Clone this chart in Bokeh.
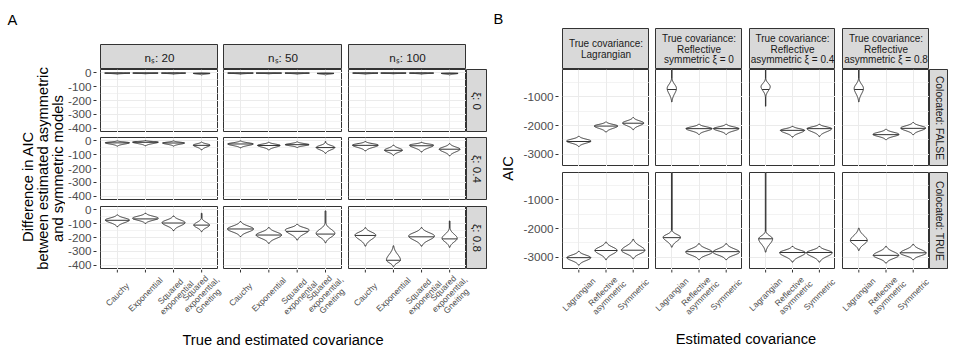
import math
import numpy as np
from bokeh.plotting import figure
from bokeh.layouts import row, column
from bokeh.models import Range1d, FixedTicker, LinearAxis, Grid, Spacer
from bokeh.core.properties import value
from bokeh.embed import file_html
from bokeh.resources import INLINE

FONT = "Liberation Sans"

# ---------------- Panel A data ([xi row][n_s column][covariance]) ----------------
A_cov = ["Cauchy", "Exponential", "Squared\nexponential", "Squared\nexponential,\nGneiting"]
A_ns = ["20", "50", "100"]
A_xi = ["0", "0.4", "0.8"]
A_yticks = [0, -100, -200, -300, -400]
A_yminor = [-50, -150, -250, -350]

A_lo = [
    [[-8, -6, -8, -14], [-8, -6, -8, -14], [-8, -6, -8, -14]],
    [[-37, -35, -37, -65], [-50, -65, -47, -90], [-72, -104, -80, -108]],
    [[-121, -97, -150, -158], [-193, -242, -218, -238], [-262, -412, -262, -271]],
]
A_peak = [
    [[-1, -1, -1, -3], [-1, -1, -1, -3], [-1, -1, -1, -3]],
    [[-13, -8, -15, -30], [-22, -32, -27, -47], [-30, -67, -30, -60]],
    [[-73, -60, -92, -110], [-138, -182, -145, -170], [-182, -364, -189, -206]],
]
A_hi = [
    [[1, 1, 1, 0], [1, 1, 1, 0], [1, 1, 1, 0]],
    [[0, 2, 0, -8], [0, -10, -7, -12], [-5, -30, -10, -20]],
    [[-36, -24, -44, -60], [-85, -128, -104, -95], [-129, -260, -129, -131]],
]
A_tail = [
    [[None, None, None, None], [None, None, None, None], [None, None, None, None]],
    [[None, None, None, None], [None, None, None, -5], [None, None, None, None]],
    [[None, None, None, -24], [None, None, None, -7], [None, None, None, -80]],
]
A_med = [
    [[-1, -1, -1, -3], [-1, -1, -1, -3], [-1, -1, -1, -3]],
    [[-14, -10, -15, -32], [-22, -33, -27, -48], [-32, -68, -35, -60]],
    [[-75, -65, -95, -110], [-138, -182, -155, -175], [-185, -365, -195, -210]],
]
A_hw = [
    [[0.45, 0.45, 0.43, 0.30], [0.45, 0.45, 0.43, 0.30], [0.45, 0.45, 0.43, 0.30]],
    [[0.43, 0.46, 0.39, 0.30], [0.45, 0.40, 0.42, 0.33], [0.46, 0.32, 0.43, 0.37]],
    [[0.43, 0.46, 0.41, 0.28], [0.46, 0.45, 0.42, 0.33], [0.37, 0.25, 0.46, 0.27]],
]

# ---------------- Panel B data ([colocated row][true covariance column][estimated]) ----------------
B_est = ["Lagrangian", "Reflective\nasymmetric", "Symmetric"]
B_true = [
    ["True covariance:", "Lagrangian"],
    ["True covariance:", "Reflective", "symmetric \u03be = 0"],
    ["True covariance:", "Reflective", "asymmetric \u03be = 0.4"],
    ["True covariance:", "Reflective", "asymmetric \u03be = 0.8"],
]
B_coloc = ["Colocated: FALSE", "Colocated: TRUE"]
B_yticks = [-1000, -2000, -3000]
B_yminor = [-500, -1500, -2500, -3500]

B_lo = [
    [[-2730, -2228, -2144], [-1175, -2309, -2309], [-1000, -2404, -2379], [-1175, -2495, -2319]],
    [[-3280, -3090, -3056], [-2652, -3090, -3090], [-2826, -3174, -3174], [-2767, -3209, -3090]],
]
B_peak = [
    [[-2544, -2017, -1912], [-700, -2109, -2109], [-640, -2168, -2109], [-700, -2309, -2088]],
    [[-3020, -2767, -2767], [-2303, -2826, -2826], [-2360, -2847, -2847], [-2418, -2941, -2860]],
]
B_hi = [
    [[-2379, -1877, -1723], [-344, -1958, -1958], [-356, -2028, -1958], [-344, -2133, -1898]],
    [[-2800, -2477, -2383], [-2070, -2533, -2533], [-2100, -2627, -2627], [-1990, -2627, -2557]],
]
B_tail_hi = [
    [[None, None, None], [-40, None, None], [-40, None, None], [-40, None, None]],
    [[None, None, None], [-40, None, None], [-40, None, None], [None, None, None]],
]
B_tail_lo = [
    [[None, None, None], [None, None, None], [-1326, None, None], [None, None, None]],
    [[None, None, None], [None, None, None], [None, None, None], [None, None, None]],
]
B_med = [
    [[-2560, -2020, -1920], [-740, -2110, -2110], [-740, -2170, -2110], [-740, -2320, -2100]],
    [[-3020, -2770, -2760], [-2320, -2810, -2810], [-2360, -2840, -2840], [-2420, -2940, -2850]],
]
B_hw = [
    [[0.45, 0.43, 0.39], [0.17, 0.48, 0.47], [0.17, 0.45, 0.46], [0.17, 0.48, 0.46]],
    [[0.44, 0.41, 0.43], [0.32, 0.49, 0.49], [0.26, 0.48, 0.48], [0.31, 0.47, 0.48]],
]

# ---------------- styling ----------------
DARK = "#333333"
GRID = "#EBEBEB"
STRIP = "#D9D9D9"
TICKTXT = "#4D4D4D"
TITLE_SIZE = "14.7px"
XLAB_SIZE = "8.5px"
XLAB_Y = 25         # px below the panels to the centre of a rotated tick label
XLAB_LINE = 9       # px between lines of a rotated tick label
H = 351
PANEL_BOTTOM = 269


def width_at(y, lo, peak, hi, hw, k=3.2):
    if y <= peak:
        t = (peak - y) / (peak - lo) if peak > lo else 0.0
    else:
        t = (y - peak) / (hi - peak) if hi > peak else 0.0
    return hw * math.exp(-k * t * t)


def violin(xc, lo, peak, hi, hw, tail_hi=None, tail_lo=None):
    ys = sorted(set(list(np.linspace(lo, hi, 61)) + [peak]))
    ws = [width_at(y, lo, peak, hi, hw) for y in ys]
    if tail_lo is not None:
        ys = [tail_lo] + ys
        ws = [ws[0]] + ws
    if tail_hi is not None:
        ys = ys + [tail_hi]
        ws = ws + [ws[-1]]
    xs = [xc + w for w in ws] + [xc - w for w in reversed(ws)]
    yy = ys + list(reversed(ys))
    return xs, yy


def blank_fig(**kw):
    p = figure(x_axis_location=None, y_axis_location=None,
               toolbar_location=None, output_backend="svg",
               border_fill_color="white", **kw)
    p.grid.visible = False
    return p


def panel(fw, fh, ncat, yr, yticks, yminor, bl, bt):
    p = blank_fig(frame_width=fw, frame_height=fh,
                  x_range=Range1d(0.4, ncat + 0.6), y_range=Range1d(*yr),
                  min_border_left=bl, min_border_right=0, min_border_top=bt, min_border_bottom=0,
                  outline_line_color=DARK, outline_line_width=1,
                  background_fill_color="white")
    p.add_layout(Grid(dimension=0, ticker=FixedTicker(ticks=list(range(1, ncat + 1))),
                      grid_line_color=GRID, grid_line_width=1))
    p.add_layout(Grid(dimension=1, ticker=FixedTicker(ticks=yticks, minor_ticks=yminor),
                      grid_line_color=GRID, grid_line_width=1,
                      minor_grid_line_color=GRID, minor_grid_line_width=0.6))
    return p


def axis_fig(width, yr, frame_h, pad_top, pad_bottom, yticks):
    rpp = (yr[1] - yr[0]) / frame_h
    p = blank_fig(frame_width=1, frame_height=frame_h + pad_top + pad_bottom,
                  x_range=Range1d(0, 1),
                  y_range=Range1d(yr[0] - pad_bottom * rpp, yr[1] + pad_top * rpp),
                  min_border_left=width - 1, min_border_right=0, min_border_top=0, min_border_bottom=0,
                  outline_line_color=None, background_fill_color="white")
    ax = LinearAxis(ticker=FixedTicker(ticks=yticks))
    ax.major_label_overrides = {t: str(t) for t in yticks}
    ax.axis_line_color = None
    ax.major_tick_line_color = DARK
    ax.major_tick_out = 3
    ax.major_tick_in = 0
    ax.minor_tick_out = 0
    ax.minor_tick_in = 0
    ax.major_label_standoff = 2
    ax.major_label_text_font = FONT
    ax.major_label_text_font_size = "11.7px"
    ax.major_label_text_color = TICKTXT
    p.add_layout(ax, "left")
    return p


def draw_violins(p, lo, peak, hi, hw, med, tail_hi, tail_lo=None):
    xs, ys, mx0, mx1, my = [], [], [], [], []
    for i in range(len(lo)):
        xc = i + 1
        th = tail_hi[i] if tail_hi is not None else None
        tl = tail_lo[i] if tail_lo is not None else None
        vx, vy = violin(xc, lo[i], peak[i], hi[i], hw[i], th, tl)
        xs.append(vx)
        ys.append(vy)
        w = width_at(med[i], lo[i], peak[i], hi[i], hw[i])
        mx0.append(xc - w)
        mx1.append(xc + w)
        my.append(med[i])
    p.patches(xs=xs, ys=ys, fill_color="white", line_color=DARK, line_width=1)
    p.segment(x0=mx0, y0=my, x1=mx1, y1=my, line_color=DARK, line_width=1)


def strip(fw, fh, lines, size, bl=0, bt=0, vertical=False, spacing=0.25):
    p = blank_fig(frame_width=fw, frame_height=fh, x_range=Range1d(0, 1), y_range=Range1d(0, 1),
                  min_border_left=bl, min_border_right=0, min_border_top=bt, min_border_bottom=0,
                  background_fill_color=STRIP, outline_line_color=DARK, outline_line_width=1)
    n = len(lines)
    for i, line in enumerate(lines):
        pos = 0.5 + (n - 1) / 2 * spacing - i * spacing
        p.text(x=[0.5], y=[0.5 if vertical else pos], text=[line],
               angle=-math.pi / 2 if vertical else 0,
               text_align="center", text_baseline="middle",
               text_font=value(FONT), text_font_size=size, text_color="#1A1A1A")
    return p


def text_fig(w, h, items):
    p = blank_fig(frame_width=w, frame_height=h, x_range=Range1d(0, w), y_range=Range1d(h, 0),
                  min_border_left=0, min_border_right=0, min_border_top=0, min_border_bottom=0,
                  background_fill_color="white", outline_line_color=None)
    for (x, y, txt, ang, align, size) in items:
        p.text(x=[x], y=[y], text=[txt], angle=ang, text_align=align, text_baseline="middle",
               text_font=value(FONT), text_font_size=size, text_color="black")
    return p


def bottom_fig(w, h, col_spans, ncat, labels, title_items):
    """Tick marks and rotated category labels under each panel column (one x range per
    column, matching that column's panel scale) plus the axis title."""
    p = text_fig(w, h, title_items)
    c = math.cos(math.pi / 4)
    cats = list(range(1, ncat + 1))
    for j, (a, b) in enumerate(col_spans):
        upp = (ncat + 0.2) / (b - a)
        name = "col%d" % j
        p.extra_x_ranges[name] = Range1d(0.4 - a * upp, ncat + 0.6 + (w - b) * upp)
        p.segment(x0=cats, y0=[0] * ncat, x1=cats, y1=[3] * ncat, x_range_name=name,
                  line_color=DARK, line_width=1)
        xs, ys, txt, xo = [], [], [], []
        for i, lab in enumerate(labels):
            lines = lab.split("\n")
            n = len(lines)
            for k, line in enumerate(lines):
                s = (k - (n - 1) / 2) * XLAB_LINE
                xs.append(i + 1)
                ys.append(XLAB_Y + s * c)
                txt.append(line)
                xo.append(s * c)
        p.text(x=xs, y=ys, text=txt, x_offset=xo, angle=math.pi / 4,
               text_align="center", text_baseline="middle", x_range_name=name,
               text_font=value(FONT), text_font_size=XLAB_SIZE, text_color=TICKTXT)
    return p


# ---------------- Panel A layout ----------------
A_fw = [118, 119, 118]
A_bl = [3, 5, 6]
A_rows_bt = [0, 5, 6]
A_fh = 63
A_yr = (-432, 25)
A_axw = 32

a_strip_children = [strip(A_fw[j], 25, ["n\u209b: " + A_ns[j]], "11.7px", bl=A_bl[j], bt=44)
                    for j in range(3)]
a_strip_children.append(Spacer(width=21, height=69))
a_rows = [row(a_strip_children, spacing=0)]
for r in range(3):
    children = []
    for j in range(3):
        p = panel(A_fw[j], A_fh, 4, A_yr, A_yticks, A_yminor, A_bl[j], A_rows_bt[r])
        draw_violins(p, A_lo[r][j], A_peak[r][j], A_hi[r][j], A_hw[r][j], A_med[r][j], A_tail[r][j])
        children.append(p)
    children.append(strip(21, A_fh, ["\u03be: " + A_xi[r]], "11.7px", bt=A_rows_bt[r], vertical=True))
    a_rows.append(row(children, spacing=0))
A_spans = [(3, 121), (126, 245), (251, 369)]
a_rows.append(bottom_fig(390, H - PANEL_BOTTOM, A_spans, 4, A_cov,
                         [(185.5, 70, "True and estimated covariance", 0, "center", TITLE_SIZE)]))
A_grid = column(a_rows, spacing=0)

A_axes = column([
    Spacer(width=A_axw, height=44),
    axis_fig(A_axw, A_yr, A_fh, 25, 2, A_yticks),
    axis_fig(A_axw, A_yr, A_fh, 3, 3, A_yticks),
    axis_fig(A_axw, A_yr, A_fh, 3, 6, A_yticks),
    Spacer(width=A_axw, height=H - 275),
], spacing=0)

A_title = text_fig(65, H, [
    (7, 19, "A", 0, "left", TITLE_SIZE),
    (27, 186, "Difference in AIC", math.pi / 2, "center", TITLE_SIZE),
    (42.5, 168, "between estimated asymmetric", math.pi / 2, "center", TITLE_SIZE),
    (57.5, 168, "and symmetric models", math.pi / 2, "center", TITLE_SIZE),
])
A_block = row([A_title, A_axes, A_grid], spacing=0)

# ---------------- Panel B layout ----------------
B_fw = [87, 87, 86, 87]
B_bl = [3, 6, 7, 7]
B_rows_bt = [0, 6]
B_fh = 97
B_yr = (-3435, -40)
B_axw = 37

b_strip_children = [strip(B_fw[j], 41, B_true[j], "10px", bl=B_bl[j], bt=28) for j in range(4)]
b_strip_children.append(Spacer(width=19, height=69))
b_rows = [row(b_strip_children, spacing=0)]
for r in range(2):
    children = []
    for j in range(4):
        p = panel(B_fw[j], B_fh, 3, B_yr, B_yticks, B_yminor, B_bl[j], B_rows_bt[r])
        draw_violins(p, B_lo[r][j], B_peak[r][j], B_hi[r][j], B_hw[r][j], B_med[r][j],
                     B_tail_hi[r][j], B_tail_lo[r][j])
        children.append(p)
    children.append(strip(19, B_fh, [B_coloc[r]], "10.3px", bt=B_rows_bt[r], vertical=True))
    b_rows.append(row(children, spacing=0))
B_spans = [(3, 90), (96, 183), (190, 276), (283, 370)]
b_rows.append(bottom_fig(389, H - PANEL_BOTTOM, B_spans, 3, B_est,
                         [(186.5, 69, "Estimated covariance", 0, "center", TITLE_SIZE)]))
B_grid = column(b_rows, spacing=0)

B_axes = column([
    Spacer(width=B_axw, height=28),
    axis_fig(B_axw, B_yr, B_fh, 41, 3, B_yticks),
    axis_fig(B_axw, B_yr, B_fh, 3, 6, B_yticks),
    Spacer(width=B_axw, height=H - 275),
], spacing=0)

B_title = text_fig(33, H, [
    (6, 18.5, "B", 0, "left", TITLE_SIZE),
    (20.5, 168, "AIC", math.pi / 2, "center", TITLE_SIZE),
])
B_block = row([B_title, B_axes, B_grid], spacing=0)

layout = row([A_block, B_block], spacing=0)

open("out.html", "w").write(file_html(layout, INLINE))
